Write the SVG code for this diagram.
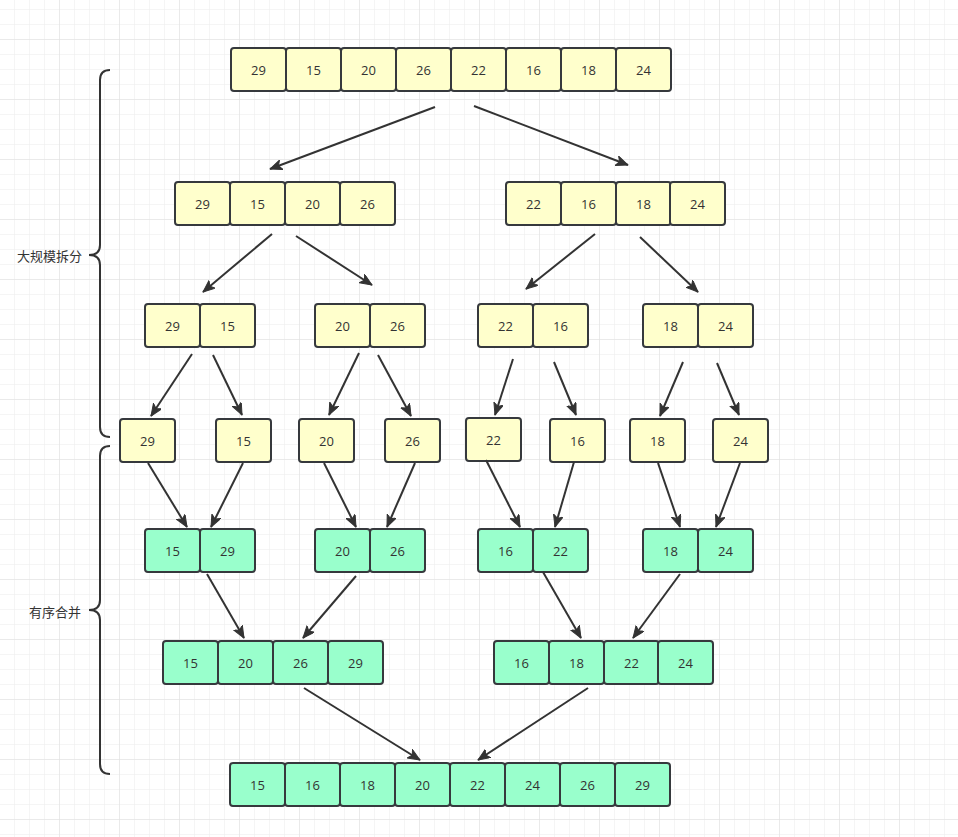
<svg xmlns="http://www.w3.org/2000/svg" width="958" height="837" viewBox="0 0 958 837">
<defs>
<pattern id="minor" x="-1" y="9" width="15" height="15" patternUnits="userSpaceOnUse">
<path d="M0,0 H15 M0,0 V15" fill="none" stroke="#ececec" stroke-width="1"/>
</pattern>
<pattern id="major" x="-1" y="39" width="60" height="60" patternUnits="userSpaceOnUse">
<path d="M0,0 H60 M0,0 V60" fill="none" stroke="#e0e0e0" stroke-width="1"/>
</pattern>
<marker id="arr" markerUnits="userSpaceOnUse" markerWidth="14" markerHeight="12" refX="12" refY="5" orient="auto">
<path d="M0,0 L12,5 L0,10 L3,5 Z" fill="#333333" stroke="#333333" stroke-width="1" stroke-linejoin="round"/>
</marker>
<style>
.y rect{fill:#ffffcc;stroke:#36393d;stroke-width:2}
.g rect{fill:#99ffcc;stroke:#36393d;stroke-width:2}
.n text{font-family:"Open Sans","Noto Sans",sans-serif;font-size:13px;fill:#333333;text-anchor:middle;dominant-baseline:central}
.c line{stroke:#333333;stroke-width:2;marker-end:url(#arr)}
.br{fill:none;stroke:#333333;stroke-width:2}
.lb{font-family:"Noto Sans CJK SC","Microsoft YaHei",sans-serif;font-size:13px;fill:#333333;dominant-baseline:central;text-anchor:end}
</style>
</defs>
<rect width="958" height="837" fill="#ffffff"/>
<rect width="958" height="837" fill="url(#minor)"/>
<rect width="958" height="837" fill="url(#major)"/>

<g id="braces">
<path class="br" d="M110,70 Q100,70 100,80 V245 Q100,255 89,255 Q100,255 100,265 V427 Q100,437 110,437"/>
<path class="br" d="M110,446 Q100,446 100,456 V600 Q100,610 89,610 Q100,610 100,620 V764 Q100,774 110,774"/>
<text class="lb" x="82" y="255">大规模拆分</text>
<text class="lb" x="81" y="611">有序合并</text>
</g>

<g id="row1" class="n y">
<rect x="231" y="48" width="55" height="43" rx="3"/><text x="258.5" y="69.5">29</text>
<rect x="286" y="48" width="55" height="43" rx="3"/><text x="313.5" y="69.5">15</text>
<rect x="341" y="48" width="55" height="43" rx="3"/><text x="368.5" y="69.5">20</text>
<rect x="396" y="48" width="55" height="43" rx="3"/><text x="423.5" y="69.5">26</text>
<rect x="451" y="48" width="55" height="43" rx="3"/><text x="478.5" y="69.5">22</text>
<rect x="506" y="48" width="55" height="43" rx="3"/><text x="533.5" y="69.5">16</text>
<rect x="561" y="48" width="55" height="43" rx="3"/><text x="588.5" y="69.5">18</text>
<rect x="616" y="48" width="55" height="43" rx="3"/><text x="643.5" y="69.5">24</text>
</g>

<g id="row2-left" class="n y">
<rect x="175" y="182" width="55" height="43" rx="3"/><text x="202.5" y="203.5">29</text>
<rect x="230" y="182" width="55" height="43" rx="3"/><text x="257.5" y="203.5">15</text>
<rect x="285" y="182" width="55" height="43" rx="3"/><text x="312.5" y="203.5">20</text>
<rect x="340" y="182" width="55" height="43" rx="3"/><text x="367.5" y="203.5">26</text>
</g>
<g id="row2-right" class="n y">
<rect x="506" y="182" width="55" height="43" rx="3"/><text x="533.5" y="203.5">22</text>
<rect x="561" y="182" width="55" height="43" rx="3"/><text x="588.5" y="203.5">16</text>
<rect x="616" y="182" width="55" height="43" rx="3"/><text x="643.5" y="203.5">18</text>
<rect x="670" y="182" width="55" height="43" rx="3"/><text x="697.5" y="203.5">24</text>
</g>

<g id="row3-a" class="n y">
<rect x="145" y="304" width="55" height="43" rx="3"/><text x="172.5" y="325.5">29</text>
<rect x="200" y="304" width="55" height="43" rx="3"/><text x="227.5" y="325.5">15</text>
</g>
<g id="row3-b" class="n y">
<rect x="315" y="304" width="55" height="43" rx="3"/><text x="342.5" y="325.5">20</text>
<rect x="370" y="304" width="55" height="43" rx="3"/><text x="397.5" y="325.5">26</text>
</g>
<g id="row3-c" class="n y">
<rect x="478" y="304" width="55" height="43" rx="3"/><text x="505.5" y="325.5">22</text>
<rect x="533" y="304" width="55" height="43" rx="3"/><text x="560.5" y="325.5">16</text>
</g>
<g id="row3-d" class="n y">
<rect x="643" y="304" width="55" height="43" rx="3"/><text x="670.5" y="325.5">18</text>
<rect x="698" y="304" width="55" height="43" rx="3"/><text x="725.5" y="325.5">24</text>
</g>

<g id="row4-29" class="n y"><rect x="120" y="419" width="55" height="43" rx="3"/><text x="147.5" y="440.5">29</text></g>
<g id="row4-15" class="n y"><rect x="216" y="419" width="55" height="43" rx="3"/><text x="243.5" y="440.5">15</text></g>
<g id="row4-20" class="n y"><rect x="299" y="419" width="55" height="43" rx="3"/><text x="326.5" y="440.5">20</text></g>
<g id="row4-26" class="n y"><rect x="385" y="419" width="55" height="43" rx="3"/><text x="412.5" y="440.5">26</text></g>
<g id="row4-22" class="n y"><rect x="466" y="418" width="55" height="43" rx="3"/><text x="493.5" y="439.5">22</text></g>
<g id="row4-16" class="n y"><rect x="550" y="419" width="55" height="43" rx="3"/><text x="577.5" y="440.5">16</text></g>
<g id="row4-18" class="n y"><rect x="630" y="419" width="55" height="43" rx="3"/><text x="657.5" y="440.5">18</text></g>
<g id="row4-24" class="n y"><rect x="713" y="419" width="55" height="43" rx="3"/><text x="740.5" y="440.5">24</text></g>

<g id="row5-a" class="n g">
<rect x="145" y="529" width="55" height="43" rx="3"/><text x="172.5" y="550.5">15</text>
<rect x="200" y="529" width="55" height="43" rx="3"/><text x="227.5" y="550.5">29</text>
</g>
<g id="row5-b" class="n g">
<rect x="315" y="529" width="55" height="43" rx="3"/><text x="342.5" y="550.5">20</text>
<rect x="370" y="529" width="55" height="43" rx="3"/><text x="397.5" y="550.5">26</text>
</g>
<g id="row5-c" class="n g">
<rect x="478" y="529" width="55" height="43" rx="3"/><text x="505.5" y="550.5">16</text>
<rect x="533" y="529" width="55" height="43" rx="3"/><text x="560.5" y="550.5">22</text>
</g>
<g id="row5-d" class="n g">
<rect x="643" y="529" width="55" height="43" rx="3"/><text x="670.5" y="550.5">18</text>
<rect x="698" y="529" width="55" height="43" rx="3"/><text x="725.5" y="550.5">24</text>
</g>

<g id="row6-left" class="n g">
<rect x="163" y="641" width="55" height="43" rx="3"/><text x="190.5" y="662.5">15</text>
<rect x="218" y="641" width="55" height="43" rx="3"/><text x="245.5" y="662.5">20</text>
<rect x="273" y="641" width="55" height="43" rx="3"/><text x="300.5" y="662.5">26</text>
<rect x="328" y="641" width="55" height="43" rx="3"/><text x="355.5" y="662.5">29</text>
</g>
<g id="row6-right" class="n g">
<rect x="494" y="641" width="55" height="43" rx="3"/><text x="521.5" y="662.5">16</text>
<rect x="549" y="641" width="55" height="43" rx="3"/><text x="576.5" y="662.5">18</text>
<rect x="604" y="641" width="55" height="43" rx="3"/><text x="631.5" y="662.5">22</text>
<rect x="658" y="641" width="55" height="43" rx="3"/><text x="685.5" y="662.5">24</text>
</g>

<g id="row7" class="n g">
<rect x="230" y="763" width="55" height="43" rx="3"/><text x="257.5" y="784.5">15</text>
<rect x="285" y="763" width="55" height="43" rx="3"/><text x="312.5" y="784.5">16</text>
<rect x="340" y="763" width="55" height="43" rx="3"/><text x="367.5" y="784.5">18</text>
<rect x="395" y="763" width="55" height="43" rx="3"/><text x="422.5" y="784.5">20</text>
<rect x="450" y="763" width="55" height="43" rx="3"/><text x="477.5" y="784.5">22</text>
<rect x="505" y="763" width="55" height="43" rx="3"/><text x="532.5" y="784.5">24</text>
<rect x="560" y="763" width="55" height="43" rx="3"/><text x="587.5" y="784.5">26</text>
<rect x="615" y="763" width="55" height="43" rx="3"/><text x="642.5" y="784.5">29</text>
</g>

<g id="connectors" class="c">
<line x1="435" y1="107" x2="270" y2="169"/>
<line x1="474" y1="106" x2="628" y2="165"/>
<line x1="272" y1="234" x2="203" y2="292"/>
<line x1="296" y1="236" x2="372" y2="285"/>
<line x1="595" y1="234" x2="526" y2="289"/>
<line x1="640" y1="237" x2="698" y2="292"/>
<line x1="192" y1="354" x2="151" y2="416"/>
<line x1="213" y1="355" x2="242" y2="415"/>
<line x1="359" y1="353" x2="329" y2="415"/>
<line x1="378" y1="355" x2="411" y2="416"/>
<line x1="513" y1="359" x2="495" y2="415"/>
<line x1="554" y1="362" x2="576" y2="415"/>
<line x1="683" y1="362" x2="660" y2="416"/>
<line x1="717" y1="363" x2="739" y2="415"/>
<line x1="148" y1="463" x2="187" y2="527"/>
<line x1="243" y1="463" x2="211" y2="527"/>
<line x1="324" y1="463" x2="356" y2="527"/>
<line x1="415" y1="463" x2="387" y2="527"/>
<line x1="486" y1="460" x2="520" y2="527"/>
<line x1="574" y1="462" x2="555" y2="527"/>
<line x1="658" y1="463" x2="680" y2="527"/>
<line x1="740" y1="463" x2="716" y2="527"/>
<line x1="207" y1="574" x2="244" y2="638"/>
<line x1="356" y1="576" x2="303" y2="638"/>
<line x1="543" y1="572" x2="581" y2="638"/>
<line x1="680" y1="574" x2="633" y2="638"/>
<line x1="304" y1="688" x2="420" y2="760"/>
<line x1="588" y1="688" x2="478" y2="760"/>
</g>
</svg>
